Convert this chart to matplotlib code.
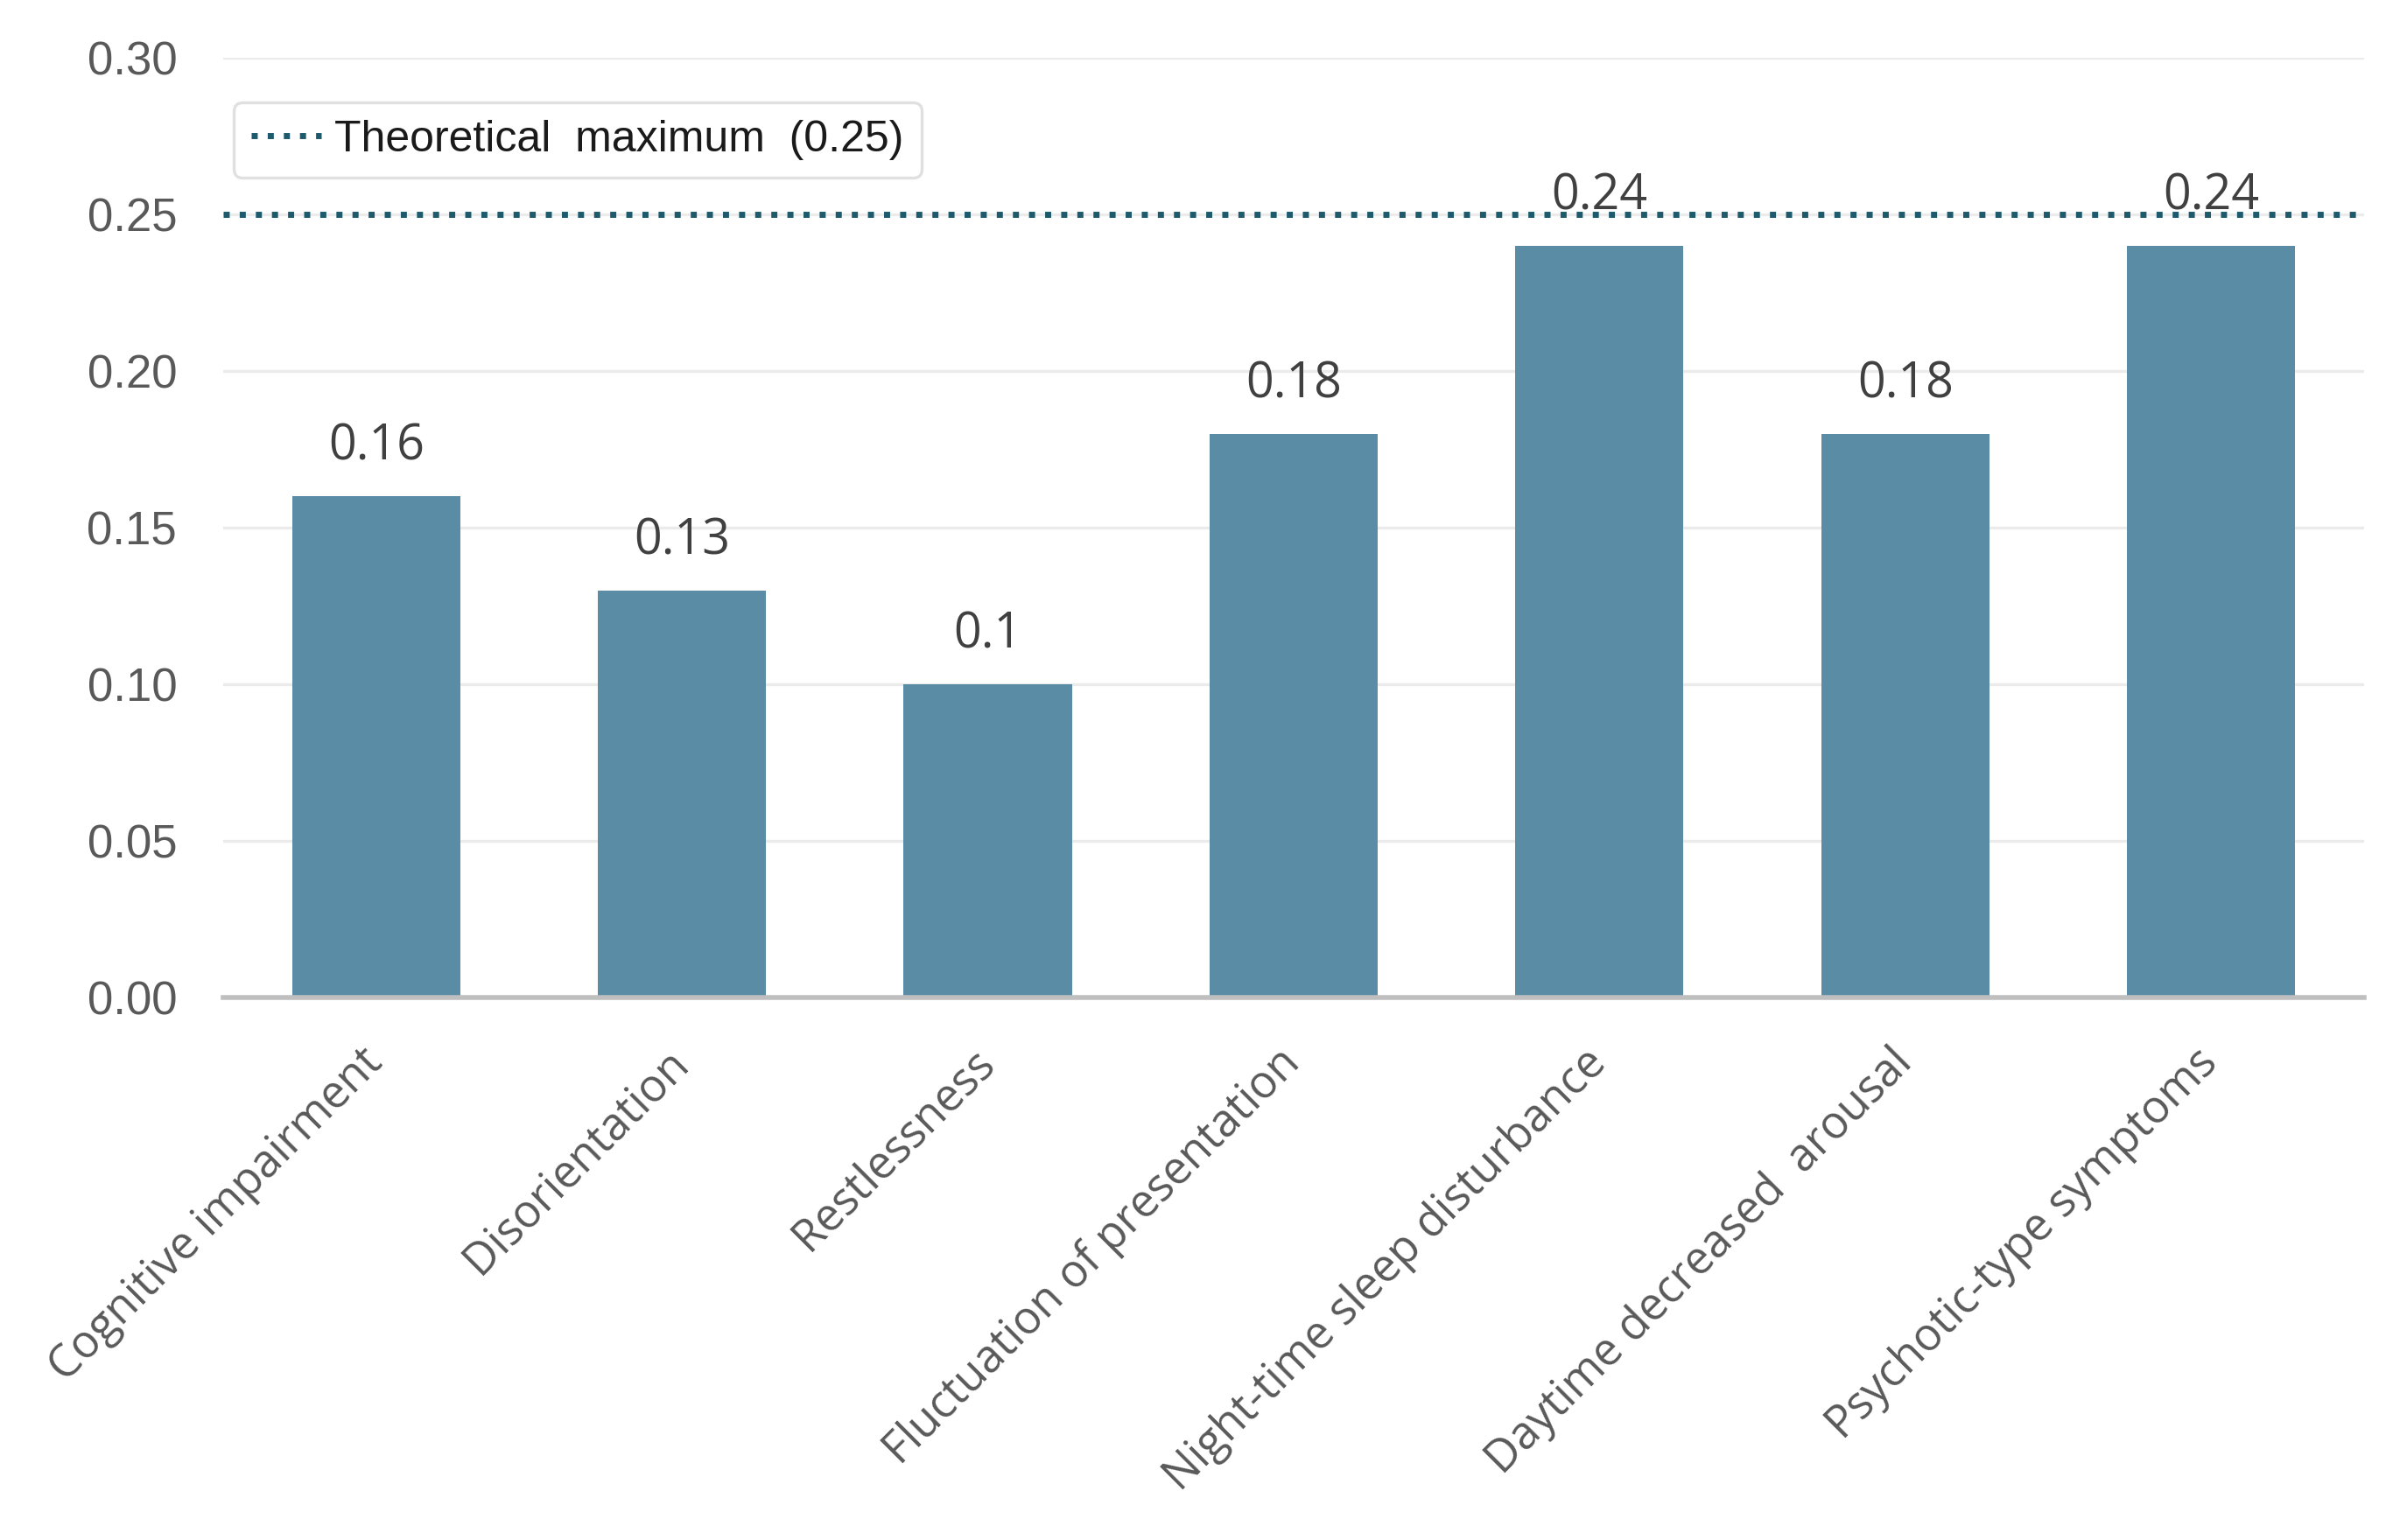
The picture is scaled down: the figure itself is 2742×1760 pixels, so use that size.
import matplotlib.pyplot as plt

categories = ['Cognitive impairment', 'Disorientation', 'Restlessness',
              'Fluctuation of presentation', 'Night-time sleep disturbance',
              'Daytime decreased  arousal', 'Psychotic-type symptoms']
values = [0.16, 0.13, 0.10, 0.18, 0.24, 0.18, 0.24]
value_labels = ['0.16', '0.13', '0.1', '0.18', '0.24', '0.18', '0.24']
theoretical_max = 0.25
y_ticks = [0.00, 0.05, 0.10, 0.15, 0.20, 0.25, 0.30]

bar_color = '#5a8ca6'
line_color = '#1d5a6c'
narrow = ['Liberation Sans Narrow', 'Liberation Sans', 'DejaVu Sans']
plt.rcParams['font.family'] = ['Open Sans', 'DejaVu Sans']

fig = plt.figure(figsize=(13.71, 8.8), dpi=200)
ax = fig.add_axes([0.093, 0.352, 0.892, 0.6105])

x = range(len(categories))
ax.bar(x, values, width=0.55, color=bar_color, zorder=2)

for xi, v, lab in zip(x, values, value_labels):
    ax.annotate(lab, (xi, v), xytext=(0, 10), textcoords='offset points',
                ha='center', va='bottom', fontsize=20, color='#404040')

ax.axhline(theoretical_max, color=line_color, linestyle=':', linewidth=2.5,
           zorder=3, label='Theoretical  maximum  (0.25)')

ax.set_xlim(-0.5, 6.5)
ax.set_ylim(0, 0.30)
ax.set_yticks(y_ticks)
ax.set_yticklabels(['%.2f' % t for t in y_ticks], family=narrow, fontsize=19,
                   color='#595959')
ax.grid(axis='y', color='#ebebeb', linewidth=1.2, zorder=0)
ax.set_axisbelow(True)

ax.set_xticks(list(x))
ax.set_xticklabels(categories, rotation=45, ha='right', va='center',
                   rotation_mode='anchor', fontsize=18.5, color='#595959')
ax.tick_params(axis='x', length=0, pad=24)
ax.tick_params(axis='y', length=0, pad=19)

for s in ['top', 'right', 'left']:
    ax.spines[s].set_visible(False)
ax.spines['bottom'].set_color('#bfbfbf')
ax.spines['bottom'].set_linewidth(2)

leg = ax.legend(loc='upper left', bbox_to_anchor=(0.005, 0.953),
                borderaxespad=0, frameon=True, fancybox=True,
                handlelength=1.6, handletextpad=0.3,
                prop={'family': narrow, 'size': 18})
leg.get_frame().set_edgecolor('#d9d9d9')
leg.get_frame().set_linewidth(1.2)
for t in leg.get_texts():
    t.set_color('#1a1a1a')

fig.savefig('out.png', dpi=200, facecolor='white')
